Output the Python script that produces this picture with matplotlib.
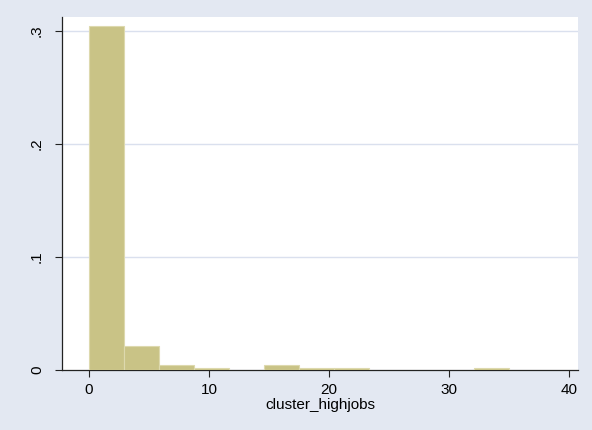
import matplotlib.pyplot as plt
import numpy as np

# histogram bins (width ~2.92) and density heights
bin_width = 2.92
bin_left = [0, 1, 2, 3, 5, 6, 7, 11]  # bin index
density = [0.3045, 0.021, 0.0044, 0.002, 0.0044, 0.002, 0.002, 0.002]

xticks = [0, 10, 20, 30, 40]
yticks = [0, 0.1, 0.2, 0.3]
ytick_labels = ["0", ".1", ".2", ".3"]

plt.rcParams["font.family"] = ["Liberation Sans", "DejaVu Sans"]

bg = "#E3E8F2"
fig = plt.figure(figsize=(5.92, 4.30), dpi=100, facecolor=bg)
ax = fig.add_axes([62 / 592, 1 - 370 / 430, (578 - 62) / 592, (370 - 17) / 430])
ax.set_facecolor("white")

lefts = np.array(bin_left) * bin_width
ax.bar(lefts, density, width=bin_width, align="edge",
       color="#C9C386", edgecolor="#DDD9AE", linewidth=0.8, zorder=3)

ax.set_xlim(-2.25, 40.75)
ax.set_ylim(0, 0.3124)
ax.set_xticks(xticks)
ax.set_yticks(yticks)
ax.set_yticklabels(ytick_labels, rotation=90, va="center")
ax.tick_params(axis="both", labelsize=11, length=5, width=0.8, color="#222222")
ax.tick_params(axis="x", pad=4)
ax.tick_params(axis="y", pad=8)

for y in yticks[1:]:
    ax.axhline(y, color="#DAE0EE", linewidth=1.0, zorder=1)

for s in ["top", "right"]:
    ax.spines[s].set_visible(False)
ax.spines["left"].set_color("#222222")
ax.spines["bottom"].set_color("#222222")
ax.spines["left"].set_linewidth(0.9)
ax.spines["bottom"].set_linewidth(0.9)

ax.set_xlabel("cluster_highjobs", fontsize=11, labelpad=1)

fig.savefig("out.png", dpi=100, facecolor=bg)
